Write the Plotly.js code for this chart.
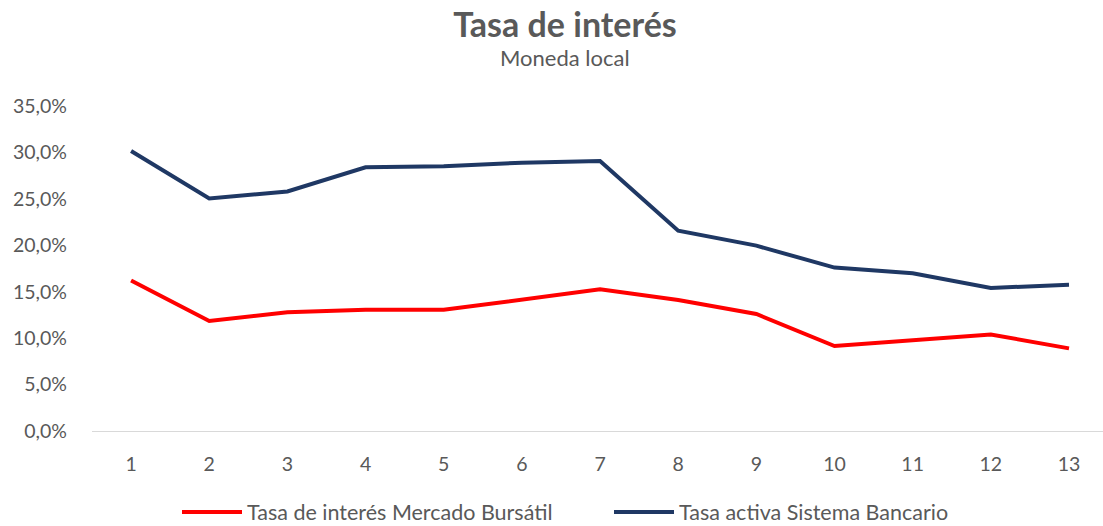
<!DOCTYPE html>
<html>
<head>
<meta charset="utf-8">
<script src="https://cdn.plot.ly/plotly-3.0.1.min.js"></script>
<style>html,body{margin:0;padding:0;background:#fff;}#chart{width:1103px;height:526px;}</style>
</head>
<body>
<div id="chart"></div>
<script>
const periods = [1, 2, 3, 4, 5, 6, 7, 8, 9, 10, 11, 12, 13];
const tasaMercadoBursatil = [16.2, 11.85, 12.8, 13.05, 13.05, 14.2, 15.25, 14.1, 12.6, 9.15, 9.8, 10.4, 8.9];
const tasaSistemaBancario = [30.15, 25.05, 25.8, 28.4, 28.5, 28.9, 29.07, 21.57, 19.96, 17.6, 16.98, 15.4, 15.76];
const yTicks = [0, 5, 10, 15, 20, 25, 30, 35];
const yTickText = ['0,0%', '5,0%', '10,0%', '15,0%', '20,0%', '25,0%', '30,0%', '35,0%'];

const FONT = 'Lato, "Open Sans", sans-serif';
const GREY = '#595959';

const traces = [
  {
    x: periods, y: tasaMercadoBursatil, type: 'scatter', mode: 'lines',
    name: 'Tasa de interés Mercado Bursátil',
    line: {color: '#ff0000', width: 4}
  },
  {
    x: periods, y: tasaSistemaBancario, type: 'scatter', mode: 'lines',
    name: 'Tasa activa Sistema Bancario',
    line: {color: '#1f3864', width: 4}
  }
];

const layout = {
  width: 1103, height: 526,
  paper_bgcolor: '#fff', plot_bgcolor: '#fff',
  separators: ',.',
  font: {family: FONT, color: GREY, size: 19.5},
  margin: {l: 92, r: 0, t: 106, b: 95},
  title: {
    text: '<b>Tasa de interés</b>',
    font: {family: FONT, size: 34, color: GREY},
    x: 565 / 1103, xref: 'container', xanchor: 'center',
    y: 1 - 25/526, yref: 'container', yanchor: 'middle'
  },
  annotations: [{
    text: 'Moneda local', xref: 'paper', yref: 'paper',
    x: (565 - 92) / 1011, xanchor: 'center',
    y: 1 + (106 - 58) / 325, yanchor: 'middle',
    showarrow: false, font: {family: FONT, size: 22, color: GREY}
  }],
  xaxis: {
    range: [0.5, 13.435], tickvals: periods, ticktext: periods.map(String),
    showgrid: false, zeroline: false, showline: true, linecolor: '#d9d9d9', linewidth: 1,
    ticks: '', ticklabelstandoff: 16, tickfont: {size: 19.5, color: GREY}, fixedrange: true
  },
  yaxis: {
    range: [0, 35], tickvals: yTicks, ticktext: yTickText,
    showgrid: false, zeroline: false, showline: false,
    ticks: '', ticklabelstandoff: 24, tickfont: {size: 19.5, color: GREY}, fixedrange: true
  },
  showlegend: true,
  legend: {
    orientation: 'h', xref: 'container', yref: 'container',
    x: (182 - 56 + 123) / 1103 - 0.0, xanchor: 'center',
    y: 1 - 512/526, yanchor: 'middle',
    font: {family: FONT, size: 21.5, color: GREY}, itemwidth: 60,
    entrywidth: 357, entrywidthmode: 'pixels'
  }
};
// legend center: shift so first line starts near x=182
layout.legend.x = (568 + 54 - 13) / 1103;

Plotly.newPlot('chart', traces, layout, {displayModeBar: false, staticPlot: true});
</script>
</body>
</html>
